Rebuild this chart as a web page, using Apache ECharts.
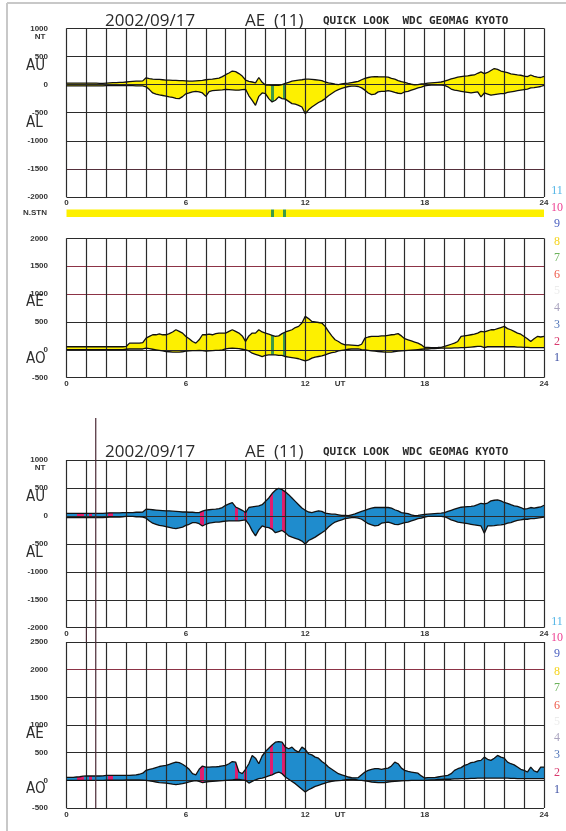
<!DOCTYPE html>
<html>
<head>
<meta charset="utf-8">
<title>AE (11) quick look 2002/09/17</title>
<script src="https://cdn.jsdelivr.net/npm/echarts@6/dist/echarts.min.js"></script>
<style>
html,body{margin:0;padding:0;background:#ffffff;}
#chart{width:566px;height:831px;}
</style>
</head>
<body>
<div id="chart"></div>
<script>
// ---------------- data (10-minute samples, 0h .. 24h) ----------------
const STEP_MINUTES = 10;
const xTickLabels = ['0', '6', '12', '18', '24'];
const utLabel = 'UT';
const utLabelHour = 13.75;

// upper chart (yellow)
const upAU = [25,25,25,25,25,25, 25,25,25,25,20,20, 25,30,35,35,40,40, 45,50,55,60,60,65,
  120,105,95,90,90,85, 80,80,75,75,70,70, 65,60,60,65,70,75, 85,90,95,105,115,140,
  175,205,240,230,195,150, 80,55,45,30,125,40, -10,-10,-15,-10,-15,0, 20,40,60,70,80,85,
  95,95,90,85,80,70, 45,30,20,5,0,10, 20,25,35,45,55,85, 110,125,135,140,138,137,
  135,130,110,95,70,50, 40,20,5,-5,0,10, 15,25,30,35,40,45, 60,80,100,115,130,140,
  150,155,165,170,200,225, 195,215,250,285,270,240, 225,210,190,180,170,165, 150,140,170,145,130,125,
  145];
const upAL = [-25,-25,-25,-25,-25,-25, -25,-25,-25,-25,-25,-25, -20,-20,-20,-20,-20,-20, -20,-20,-20,-25,-25,-25,
  -40,-90,-150,-170,-185,-195, -205,-220,-230,-245,-250,-215, -165,-150,-130,-120,-130,-150, -210,-125,-110,-105,-100,-95,
  -85,-90,-95,-100,-100,-90, -85,-200,-280,-370,-210,-150, -160,-250,-310,-280,-220,-250, -260,-300,-340,-350,-370,-400,
  -520,-450,-400,-360,-320,-290, -250,-200,-160,-120,-90,-70, -50,-35,-30,-30,-35,-60, -100,-150,-180,-170,-130,-120,
  -120,-110,-120,-140,-155,-160, -130,-120,-100,-80,-60,-45, -25,-15,-10,-10,-10,-10, -15,-40,-80,-100,-110,-120,
  -130,-140,-150,-140,-130,-220, -150,-170,-190,-180,-170,-160, -160,-140,-130,-120,-110,-100, -90,-80,-60,-55,-45,-35,
  -15];
const upAE = [55,55,55,55,55,55, 55,55,55,55,55,55, 55,55,55,55,55,55, 60,120,120,120,120,130,
  210,240,270,270,285,270, 270,290,320,360,330,300, 240,200,150,120,180,270, 270,280,270,290,300,300,
  300,330,360,330,300,250, 150,250,300,300,360,320, 300,280,260,240,250,290, 320,340,360,400,420,480,
  600,560,510,500,490,480, 420,330,250,180,150,110, 90,90,85,80,75,100, 210,230,240,240,240,250,
  250,260,270,275,290,250, 200,180,160,140,120,90, 42,42,40,40,42,45, 60,80,100,120,150,240,
  250,260,270,280,300,330, 320,340,360,360,380,400, 420,380,360,330,300,280, 240,200,150,200,240,230,
  240];
const upAO = [5,5,5,5,5,5, 5,5,5,5,5,5, 5,5,5,5,5,5, 10,15,15,15,15,15,
  30,20,10,0,-10,-20, -30,-35,-40,-42,-40,-35, -25,-20,-15,-15,-10,-15, -25,-20,-15,-10,-10,0,
  15,25,30,25,20,10, 0,-20,-60,-80,-100,-120, -100,-90,-90,-90,-100,-100, -120,-130,-140,-150,-160,-180,
  -200,-180,-150,-130,-120,-110, -90,-70,-50,-40,-20,-10, 0,10,15,18,15,5, 0,-10,-20,-25,-30,-35,
  -40,-42,-40,-30,-25,-20, -15,-10,-5,0,5,10, 15,15,20,20,25,30, 30,30,30,35,35,40,
  40,45,50,55,60,60, 40,55,55,55,55,55, 55,55,55,55,50,50, 45,45,40,40,40,38,
  38];

// lower chart (blue)
const loAU = [45,45,45,45,45,45, 45,45,45,45,45,45, 50,55,55,55,55,60, 60,60,60,65,65,70,
  120,115,110,105,100,95, 90,90,85,80,75,70, 70,65,65,60,60,85, 105,110,115,120,130,150,
  190,215,238,160,130,100, 60,150,160,170,180,200, 260,320,400,460,494,470, 430,380,320,260,200,140,
  100,70,60,75,90,80, 50,40,30,30,20,10, 10,5,20,35,60,80, 100,120,140,150,150,150,
  150,150,140,110,90,60, 50,40,20,5,10,20, 25,30,35,40,45,50, 60,80,100,120,140,155,
  160,165,170,180,200,226, 215,230,268,280,285,270, 240,225,200,180,170,150, 120,130,150,140,150,160,
  190];
const loAL = [-30,-30,-30,-30,-30,-30, -30,-30,-30,-30,-30,-30, -25,-20,-20,-20,-20,-15, -10,-10,-10,-15,-15,-20,
  -40,-90,-130,-150,-170,-180, -190,-205,-220,-226,-215,-200, -170,-150,-120,-120,-140,-180, -150,-130,-120,-110,-110,-100,
  -95,-90,-90,-90,-90,-80, -70,-150,-268,-357,-250,-180, -200,-210,-240,-300,-280,-260, -300,-357,-380,-400,-420,-450,
  -505,-440,-410,-380,-340,-300, -260,-200,-150,-110,-90,-70, -50,-40,-30,-30,-40,-60, -100,-140,-160,-180,-170,-130,
  -120,-110,-130,-150,-155,-140, -120,-110,-90,-70,-50,-40, -20,-10,-10,-10,-10,-10, -15,-40,-70,-90,-110,-120,
  -130,-140,-150,-160,-170,-180, -310,-180,-180,-175,-165,-160, -150,-130,-120,-100,-80,-70, -60,-60,-50,-50,-40,-30,
  -20];
const loAE = [55,55,55,60,65,75, 78,78,78,78,78,80, 90,90,90,90,90,90, 90,90,95,100,110,130,
  180,200,210,230,250,260, 270,290,310,330,320,290, 250,200,120,100,200,258, 240,240,245,245,250,260,
  270,300,340,330,150,120, 200,300,450,400,300,440, 520,580,640,690,700,690, 600,570,600,540,510,600,
  560,480,460,420,400,340, 300,240,200,160,120,100, 80,60,50,45,50,100, 150,180,200,210,210,200,
  210,220,260,330,300,220, 180,160,150,140,130,80, 42,50,50,50,60,70, 80,90,120,180,210,230,
  270,290,320,330,350,360, 420,380,360,400,450,420, 400,330,300,280,240,200, 180,150,240,170,150,240,
  240];
const loAO = [0,0,0,0,0,0, 0,0,0,0,0,0, 5,5,5,5,5,5, 10,10,10,10,10,5,
  0,-10,-20,-30,-40,-45, -50,-60,-70,-78,-70,-60, -45,-30,-15,-5,-20,-40, -30,-25,-20,-15,-10,-5,
  0,5,10,15,15,10, 0,-50,-20,10,30,40, 60,80,100,130,150,120, 60,20,-20,-60,-110,-160,
  -210,-170,-140,-110,-90,-70, -50,-30,-20,-10,-5,0, 10,15,20,15,5,0, -10,-20,-30,-35,-40,-42,
  -40,-30,-25,-20,-15,-10, -5,-5,0,0,0,0, 0,5,10,10,15,18, 20,20,20,25,25,30,
  30,30,35,35,40,40, 40,40,40,40,40,40, 40,40,35,35,30,30, 30,30,30,30,30,30,
  30];

// station-count segments [startHour, endHour]
const upperFewerStations = [[10.27, 10.42], [10.87, 11.02]];            // 7 stations (else 8)
const lowerFewerStations = [[0.51, 0.88], [1.15, 1.27], [2.10, 2.32], [6.71, 6.91],
  [8.47, 8.64], [8.92, 9.09], [10.23, 10.40], [10.81, 11.03]];             // 2 stations (else 3)

// station number legend
const stnNumbers = ['11', '10', '9', '8', '7', '6', '5', '4', '3', '2', '1'];
const stnColors = ['#52b5e6', '#ee3f91', '#4a5fc0', '#f5d31a', '#6db35d', '#ee5a4a',
  '#ececec', '#aaa4bf', '#4f74b8', '#d93a6e', '#3d4fa3'];

// ---------------- styles ----------------
const YELLOW = '#fdf000', GREEN = '#3d9a47', BLUE = '#1f8ccd', PINK = '#e01e6e';
const GRID = '#2b2b2b', REDLINE = '#8c3346', MAROON = '#55303c';
const LBL = '#333333';
const tickFont = { fontSize: 8, fontWeight: 'bold', fontFamily: '"Liberation Sans", Arial, sans-serif', color: LBL };
const MS_PER_HOUR = 3600000;

const times = upAU.map((_, i) => i * STEP_MINUTES / 60);
const timesMs = times.map(t => t * MS_PER_HOUR);

const chart = echarts.init(document.getElementById('chart'), null, { renderer: 'canvas' });

const grids = [
  { left: 66.5, top: 28.3, width: 477.5, height: 168.7 },
  { left: 66.5, top: 238.3, width: 477.5, height: 139.4 },
  { left: 66.5, top: 460, width: 477.5, height: 167.7 },
  { left: 66.5, top: 642, width: 477.5, height: 166 },
  { left: 66.5, top: 209.5, width: 477.5, height: 7.5 }
].map(g => Object.assign({ outerBoundsMode: 'none', containLabel: false }, g));

function mainX(gi, margin) {
  return {
    type: 'value', gridIndex: gi, min: 0, max: 24, interval: 1, position: 'bottom', z: 2,
    axisLine: { show: false }, axisTick: { show: false },
    splitLine: { show: true, lineStyle: { color: GRID, width: 1.2 } },
    axisLabel: Object.assign({ margin, showMinLabel: true, showMaxLabel: true,
      formatter: v => xTickLabels.includes(String(v)) ? String(v) : '' }, tickFont)
  };
}
function utX(gi, margin) {
  return {
    type: 'value', gridIndex: gi, min: 0, max: 24, interval: 0.25, position: 'bottom', z: 2,
    axisLine: { show: false }, axisTick: { show: false }, splitLine: { show: false },
    axisLabel: Object.assign({ margin, showMinLabel: false, showMaxLabel: false,
      formatter: v => Math.abs(v - utLabelHour) < 1e-6 ? utLabel : '' }, tickFont)
  };
}
// hidden time axis used by the stacked envelope fills (so stacking happens on y)
function fillX(gi) {
  return { type: 'time', gridIndex: gi, min: 0, max: 24 * MS_PER_HOUR, show: false };
}
function yAx(gi, min, max, colors) {
  return {
    type: 'value', gridIndex: gi, min, max, interval: 500, z: 2,
    axisLine: { show: false }, axisTick: { show: false },
    splitLine: { show: true, lineStyle: { color: colors, width: 1.2 } },
    axisLabel: Object.assign({ margin: 18.5, padding: [0, 0, 5, 0], showMinLabel: true, showMaxLabel: true,
      formatter: v => String(v) }, tickFont)
  };
}

const xAxis = [
  mainX(0, 1.5),       // 0
  mainX(1, 2),         // 1
  utX(1, 2),           // 2
  mainX(2, 2),         // 3
  mainX(3, 3),         // 4
  utX(3, 3),           // 5
  fillX(4),            // 6  N.STN band
  fillX(0),            // 7
  fillX(1),            // 8
  fillX(2),            // 9
  fillX(3)             // 10
];
const yAxis = [
  yAx(0, -2000, 1000, [GRID, MAROON, GRID, GRID, GRID, GRID, GRID]),
  yAx(1, -500, 2000, [GRID, GRID, GRID, REDLINE, REDLINE, GRID]),
  yAx(2, -2000, 1000, [GRID]),
  yAx(3, -500, 2500, [GRID, GRID, GRID, GRID, GRID, REDLINE, GRID]),
  { type: 'value', gridIndex: 4, min: 0, max: 1, show: false }
];

function panelSeries(xi, xfi, yi, upper, lower, key) {
  return [
    { type: 'line', xAxisIndex: xfi, yAxisIndex: yi, stack: key, stackStrategy: 'all', silent: true,
      symbol: 'none', lineStyle: { opacity: 0 }, z: 1, data: timesMs.map((t, i) => [t, lower[i]]) },
    { type: 'line', xAxisIndex: xfi, yAxisIndex: yi, stack: key, stackStrategy: 'all', silent: true,
      symbol: 'none', lineStyle: { opacity: 0 }, areaStyle: { opacity: 1 }, z: 1,
      data: timesMs.map((t, i) => [t, upper[i] - lower[i]]) },
    { type: 'line', xAxisIndex: xi, yAxisIndex: yi, silent: true, symbol: 'none', z: 3,
      lineStyle: { color: '#111111', width: 1.3 }, data: times.map((t, i) => [t, upper[i]]) },
    { type: 'line', xAxisIndex: xi, yAxisIndex: yi, silent: true, symbol: 'none', z: 3,
      lineStyle: { color: '#111111', width: 1.3 }, data: times.map((t, i) => [t, lower[i]]) }
  ];
}

const series = [].concat(
  panelSeries(0, 7, 0, upAU, upAL, 'p1'),          // 0..3
  panelSeries(1, 8, 1, upAE, upAO, 'p2'),          // 4..7
  [{ type: 'line', xAxisIndex: 6, yAxisIndex: 4, silent: true, symbol: 'none', z: 1,
     lineStyle: { opacity: 0 }, areaStyle: { opacity: 1, origin: 'start' },
     data: timesMs.map(t => [t, 1]) }],            // 8  N.STN band
  panelSeries(3, 9, 2, loAU, loAL, 'p3'),          // 9..12
  panelSeries(4, 10, 3, loAE, loAO, 'p4')          // 13..16
);

const visualMap = [
  { type: 'piecewise', show: false, dimension: 0, seriesIndex: [1, 5, 8],
    pieces: upperFewerStations.map(([a, b]) => ({ gte: a * MS_PER_HOUR, lt: b * MS_PER_HOUR, color: GREEN })),
    outOfRange: { color: YELLOW } },
  { type: 'piecewise', show: false, dimension: 0, seriesIndex: [10, 14],
    pieces: lowerFewerStations.map(([a, b]) => ({ gte: a * MS_PER_HOUR, lt: b * MS_PER_HOUR, color: PINK })),
    outOfRange: { color: BLUE } }
];

// ---------------- texts ----------------
let gid = 0;
function txt(x, y, text, font, fill, align, vAlign) {
  align = align || 'left'; vAlign = vAlign || 'middle';
  return { id: 'g' + (gid++), type: 'text', x, y, silent: true, z: 10,
    style: { text, font, fill, textAlign: align, textVerticalAlign: vAlign, align, verticalAlign: vAlign } };
}
const FT_TITLE = '17px "Open Sans", "Liberation Sans", sans-serif';
const FT_SUB = 'bold 11px "DejaVu Sans Mono", monospace';
const FT_BIG = '15px "Liberation Sans Narrow", "DejaVu Sans Condensed", sans-serif';
const FT_SMALL = 'bold 8px "Liberation Sans", Arial, sans-serif';
const FT_NUM = '12px "Liberation Serif", "DejaVu Serif", serif';

const graphics = [
  { id: 'g' + (gid++), type: 'line', silent: true, shape: { x1: 7, y1: 3, x2: 566, y2: 3 }, style: { stroke: '#c8c8c8', lineWidth: 2 } },
  { id: 'g' + (gid++), type: 'line', silent: true, shape: { x1: 7, y1: 3, x2: 7, y2: 831 }, style: { stroke: '#c8c8c8', lineWidth: 2 } }
];
[[21, 37], [452, 468]].forEach(([ty, nty]) => {
  graphics.push(txt(105, ty, '2002/09/17', FT_TITLE, '#2a2a2a'));
  graphics.push(txt(245, ty, 'AE  (11)', FT_TITLE, '#2a2a2a'));
  graphics.push(txt(323, ty + 0.5, 'QUICK LOOK  WDC GEOMAG KYOTO', FT_SUB, '#2a2a2a'));
  graphics.push(txt(40, nty, 'NT', FT_SMALL, LBL, 'center'));
});
[[66, 'AU'], [123, 'AL'], [302, 'AE'], [359, 'AO'], [497, 'AU'], [553, 'AL'], [734, 'AE'], [789, 'AO']]
  .forEach(([y, t]) => graphics.push(txt(26, y, t, FT_BIG, '#2e2e2e')));
graphics.push(txt(47, 213, 'N.STN', FT_SMALL, LBL, 'right'));
const upperNumY = [191, 208, 224, 242, 258, 275, 291, 308, 325, 342, 358];
const lowerNumY = [622, 638, 654, 672, 688, 706, 722, 738, 755, 773, 790];
stnNumbers.forEach((n, i) => {
  graphics.push(txt(557, upperNumY[i], n, FT_NUM, stnColors[i], 'center'));
  graphics.push(txt(557, lowerNumY[i], n, FT_NUM, stnColors[i], 'center'));
});

chart.setOption({
  animation: false,
  backgroundColor: '#ffffff',
  grid: grids,
  xAxis, yAxis, series, visualMap,
  graphic: graphics
});

// decorative scan artefact lines in the lower chart, placed through the axes
const xMark = chart.convertToPixel({ xAxisIndex: 3 }, 1.47);
const xHour1 = chart.convertToPixel({ xAxisIndex: 3 }, 1);
const yBottom4 = chart.convertToPixel({ yAxisIndex: 3 }, -500);
const yTop4 = chart.convertToPixel({ yAxisIndex: 3 }, 2500);
const yBottom3 = chart.convertToPixel({ yAxisIndex: 2 }, -2000);
const yTop3 = chart.convertToPixel({ yAxisIndex: 2 }, 1000);
chart.setOption({
  graphic: [
    { id: 'art1', type: 'line', silent: true, z: 5, shape: { x1: xMark, y1: yTop3 - 42, x2: xMark, y2: yBottom4 },
      style: { stroke: '#4a2a35', lineWidth: 1.2 } },
    { id: 'art2', type: 'line', silent: true, z: 5, shape: { x1: xHour1, y1: yBottom3, x2: xHour1, y2: yTop4 },
      style: { stroke: '#4a2a35', lineWidth: 1.2 } }
  ]
});
</script>
</body>
</html>
